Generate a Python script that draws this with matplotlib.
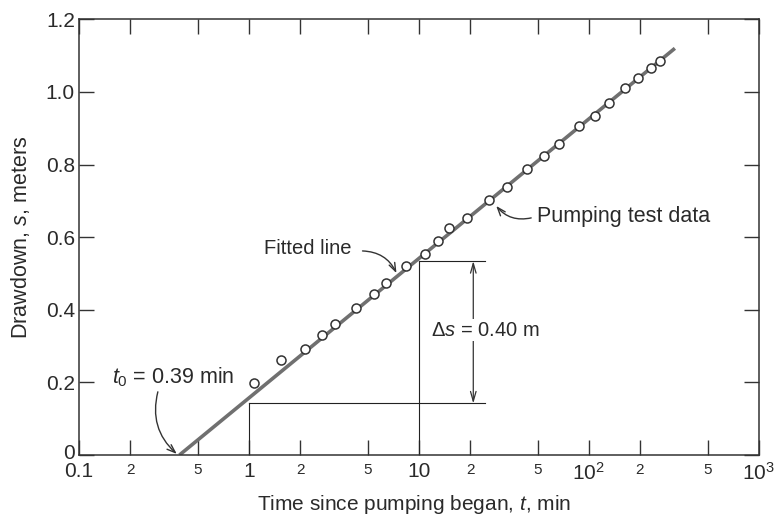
import matplotlib
matplotlib.use("Agg")
import matplotlib.pyplot as plt
import matplotlib.transforms as mtransforms

plt.rcParams['font.family'] = ['Liberation Sans', 'DejaVu Sans']
plt.rcParams['mathtext.fontset'] = 'custom'
plt.rcParams['mathtext.rm'] = 'Liberation Sans'
plt.rcParams['mathtext.it'] = 'Liberation Sans:italic'

# pumping test data
time_min = [1.07, 1.55, 2.15, 2.70, 3.23, 4.28, 5.43, 6.42, 8.45, 10.9, 13.0, 15.1,
            19.3, 25.9, 33.0, 43.4, 54.6, 66.9, 87.7, 109, 132, 163, 195, 231, 261]
drawdown_m = [0.199, 0.262, 0.293, 0.331, 0.361, 0.406, 0.444, 0.473, 0.521, 0.554,
              0.590, 0.625, 0.654, 0.702, 0.738, 0.788, 0.824, 0.857, 0.906, 0.934,
              0.970, 1.012, 1.037, 1.066, 1.085]

# fitted straight line (end points)
fit_t = [0.39, 321]
fit_s = [0.0, 1.12]

# construction for delta s over one log cycle
t_a, s_a = 1, 0.142
t_b, s_b = 10, 0.534
t_end = 24.6
t_arrow = 20.9

major_x = [0.1, 1, 10, 100, 1000]
major_xlab = ['0.1', '1', '10', '$10^2$', '$10^3$']
minor_x = [0.2, 0.5, 2, 5, 20, 50, 200, 500]
minor_xlab = ['2', '5'] * 4
y_ticks = [0, 0.2, 0.4, 0.6, 0.8, 1.0, 1.2]
y_lab = ['0', '0.2', '0.4', '0.6', '0.8', '1.0', '1.2']

txt = '#2a2a2a'
arr = '#333333'

fig = plt.figure(figsize=(7.77, 5.17), dpi=100)
ax = fig.add_axes([0.1017, 0.1199, 0.8748, 0.8428])

ax.plot(fit_t, fit_s, color='#707070', lw=2.6, solid_capstyle='butt', zorder=2)
ax.plot(time_min, drawdown_m, 'o', ms=6.5, mfc='white', mec='#333333', mew=1.1, zorder=3)

# construction lines
ax.plot([t_a, t_a], [0, s_a], color='#222222', lw=0.8)
ax.plot([t_a, t_end], [s_a, s_a], color='#222222', lw=0.8)
ax.plot([t_b, t_b], [0, s_b], color='#222222', lw=0.8)
ax.plot([t_b, t_end], [s_b, s_b], color='#222222', lw=0.8)
ax.annotate('', xy=(t_arrow, s_b), xytext=(t_arrow, s_a),
            arrowprops=dict(arrowstyle='<->,head_length=0.7,head_width=0.2',
                            color=arr, lw=0.9, shrinkA=0, shrinkB=0))
ax.text(11.8, 0.344, r'$\Delta s$ = 0.40 m', fontsize=14.5, color=txt, ha='left', va='center',
        bbox=dict(facecolor='white', edgecolor='none', pad=1), zorder=4)

# labels with curved arrows
hs = '->,head_length=0.6,head_width=0.22'
ax.text(4.0, 0.570, 'Fitted line', fontsize=14.5, color=txt, ha='right', va='center')
ax.annotate('', xy=(7.38, 0.501), xytext=(4.66, 0.562),
            arrowprops=dict(arrowstyle=hs, color=arr, lw=1.0,
                            connectionstyle='arc3,rad=-0.3', shrinkA=0, shrinkB=0))
ax.text(49.7, 0.656, 'Pumping test data', fontsize=15.5, color=txt, ha='left', va='center')
ax.annotate('', xy=(28.5, 0.686), xytext=(45.8, 0.653),
            arrowprops=dict(arrowstyle=hs, color=arr, lw=1.0,
                            connectionstyle='arc3,rad=-0.3', shrinkA=0, shrinkB=0))
ax.text(0.156, 0.215, r'$t_0$ = 0.39 min', fontsize=15.5, color=txt, ha='left', va='center')
ax.annotate('', xy=(0.376, 0.003), xytext=(0.291, 0.174),
            arrowprops=dict(arrowstyle=hs, color=arr, lw=1.0,
                            connectionstyle='arc3,rad=0.3', shrinkA=0, shrinkB=0))

ax.set_xscale('log')
ax.set_xlim(0.1, 1000)
ax.set_ylim(0, 1.2)
ax.set_xticks(major_x)
ax.set_xticklabels(major_xlab, fontsize=15, color=txt)
ax.set_xticks(minor_x, minor=True)
ax.set_xticklabels(minor_xlab, minor=True, fontsize=11, color=txt)
ax.set_yticks(y_ticks)
ax.set_yticklabels(y_lab, fontsize=15, color=txt)
ax.tick_params(which='both', direction='in', length=11, width=1, top=True, right=True,
               color='#333333')
ax.tick_params(axis='x', which='major', pad=5)
ax.tick_params(axis='x', which='minor', pad=6)
ax.tick_params(axis='y', pad=3)
for sp in ax.spines.values():
    sp.set_linewidth(1.1)
    sp.set_color('#333333')

# lift the "0" label a little so it clears "0.1"
lab0 = ax.get_yticklabels()[0]
lab0.set_transform(lab0.get_transform() + mtransforms.ScaledTranslation(0, 4 / 100, fig.dpi_scale_trans))

ax.set_xlabel('Time since pumping began, $t$, min', fontsize=15, color=txt)
ax.xaxis.set_label_coords(0.493, -0.088)
ax.xaxis.label.set_verticalalignment('top')
ax.set_ylabel('Drawdown, $s$, meters', fontsize=15.5, color=txt)
ax.yaxis.set_label_coords(-0.069, 0.5)

fig.savefig('out.png', dpi=100)
